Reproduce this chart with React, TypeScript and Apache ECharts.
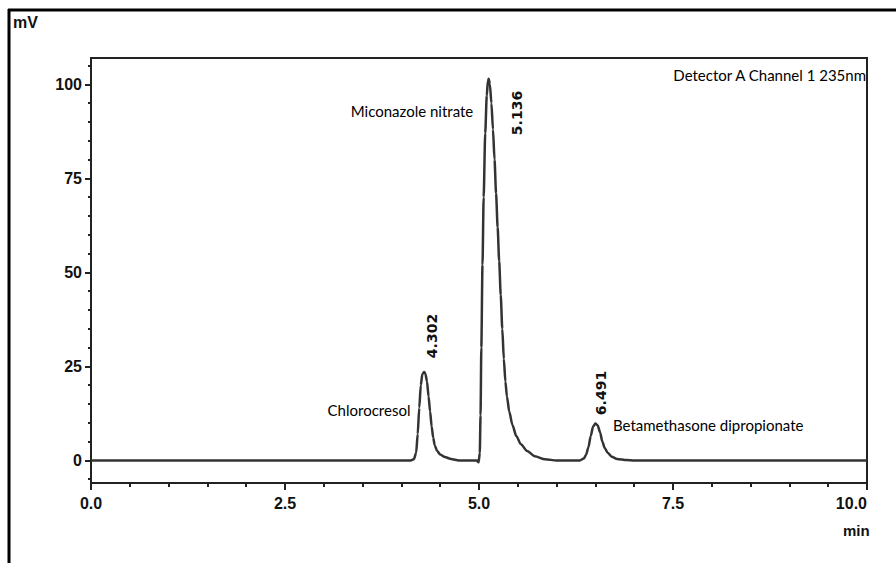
import React, { useEffect, useRef } from "react";
import * as echarts from "echarts";

// Chromatogram trace (retention time in min, signal in mV)
const timeMin: number[] = [
  0, 4.12, 4.16, 4.19, 4.21, 4.23, 4.25, 4.27, 4.295, 4.31, 4.33, 4.35, 4.37, 4.39, 4.41, 4.43, 4.46, 4.5, 4.56, 4.64, 4.74,
  4.97, 4.995, 5.01, 5.02, 5.03, 5.045, 5.06, 5.08, 5.1, 5.115, 5.125, 5.14, 5.16, 5.18, 5.2, 5.22, 5.24, 5.26, 5.28, 5.3,
  5.32, 5.34, 5.36, 5.39, 5.43, 5.48, 5.54, 5.62, 5.72, 5.85, 6.0,
  6.3, 6.35, 6.38, 6.41, 6.44, 6.47, 6.5, 6.53, 6.56, 6.59, 6.62, 6.66, 6.71, 6.78, 6.9, 7.0, 10,
];
const signalMv: number[] = [
  0, 0, 0.3, 2, 7, 14, 20, 23, 23.5, 23, 21, 17, 13, 9, 6, 4, 2.5, 1.6, 0.9, 0.4, 0,
  0, -0.5, 2, 12, 30, 52, 70, 87, 97, 101, 101.5, 100, 95, 88, 80, 71, 62, 53, 44, 35,
  27, 21, 17, 13, 9.5, 6.5, 4.3, 2.5, 1.1, 0.3, 0,
  0, 0.5, 1.5, 3.5, 6.5, 9, 9.8, 9.3, 7.5, 5, 3.3, 2, 1, 0.4, 0.1, 0, 0,
];

const xMajorTicks: number[] = [0, 2.5, 5, 7.5, 10];
const xMinorTicks: number[] = [0.5, 1, 1.5, 2, 3, 3.5, 4, 4.5, 5.5, 6, 6.5, 7, 8, 8.5, 9, 9.5];
const yMajorTicks: number[] = [0, 25, 50, 75, 100];
const yMinorTicks: number[] = [-5, 5, 10, 15, 20, 30, 35, 40, 45, 55, 60, 65, 70, 80, 85, 90, 95, 105];

const peakTimes: string[] = ["4.302", "5.136", "6.491"];
const peakNames: string[] = ["Chlorocresol", "Miconazole nitrate", "Betamethasone dipropionate"];

const AXIS_COLOR = "#222";
const TICK_FONT = {
  fontFamily: "Liberation Sans",
  fontWeight: "bold" as const,
  fontSize: 16,
  color: "#111",
};

export default function App() {
  const ref = useRef<HTMLDivElement>(null);

  useEffect(() => {
    if (!ref.current) return;
    document.body.style.margin = "0";
    const chart = echarts.init(ref.current, null, { renderer: "svg" });

    const data = timeMin.map((t, i) => [t, signalMv[i]]);
    const xRange = { min: 0, max: 10 };
    const yRange = { min: -6, max: 107 };

    const annFont = { fontFamily: "Lato", fontSize: 15, fill: "#000" };
    const numFont = { fontFamily: "DejaVu Sans", fontWeight: "bold", fontSize: 14, fill: "#111" };

    chart.setOption({
      animation: false,
      backgroundColor: "#fff",
      grid: {
        left: 91,
        top: 58,
        right: 29,
        bottom: 80,
        show: true,
        borderColor: AXIS_COLOR,
        borderWidth: 2,
        containLabel: false,
      },
      xAxis: [
        {
          type: "value",
          ...xRange,
          axisLine: { show: true, onZero: false, lineStyle: { color: AXIS_COLOR, width: 2 } },
          axisTick: { show: true, customValues: xMajorTicks, length: 7, lineStyle: { color: AXIS_COLOR, width: 2 } },
          axisLabel: {
            ...TICK_FONT,
            customValues: xMajorTicks,
            margin: 12,
            alignMaxLabel: "right",
            formatter: (v: number) => v.toFixed(1),
          },
          splitLine: { show: false },
        },
        {
          type: "value",
          ...xRange,
          position: "bottom",
          axisLine: { show: false, onZero: false },
          axisTick: { show: true, customValues: xMinorTicks, length: 4, lineStyle: { color: AXIS_COLOR, width: 2 } },
          axisLabel: { show: false },
          splitLine: { show: false },
        },
      ],
      yAxis: [
        {
          type: "value",
          ...yRange,
          axisLine: { show: true, onZero: false, lineStyle: { color: AXIS_COLOR, width: 2 } },
          axisTick: { show: true, customValues: yMajorTicks, length: 6, lineStyle: { color: AXIS_COLOR, width: 2 } },
          axisLabel: { ...TICK_FONT, customValues: yMajorTicks, margin: 9 },
          splitLine: { show: false },
        },
        {
          type: "value",
          ...yRange,
          position: "left",
          axisLine: { show: false, onZero: false },
          axisTick: { show: true, customValues: yMinorTicks, length: 3, lineStyle: { color: AXIS_COLOR, width: 2 } },
          axisLabel: { show: false },
          splitLine: { show: false },
        },
      ],
      series: [
        {
          type: "line",
          data,
          showSymbol: false,
          smooth: 0.25,
          smoothMonotone: "x",
          lineStyle: { color: "#333", width: 2.5 },
          xAxisIndex: 0,
          yAxisIndex: 0,
        },
      ],
      graphic: [
        // outer figure frame
        { type: "line", shape: { x1: 8, y1: 10, x2: 896, y2: 10 }, style: { stroke: "#000", lineWidth: 3 } },
        { type: "line", shape: { x1: 9, y1: 9, x2: 9, y2: 563 }, style: { stroke: "#000", lineWidth: 3 } },
        // axis units
        { type: "text", x: 13, y: 14, style: { text: "mV", fontFamily: "Liberation Sans", fontWeight: "bold", fontSize: 16, fill: "#111" } },
        { type: "text", x: 843, y: 523, style: { text: "min", fontFamily: "Liberation Sans", fontWeight: "bold", fontSize: 15, fill: "#111" } },
        // detector info
        { type: "text", x: 866, y: 75, style: { ...annFont, text: "Detector A Channel 1 235nm", align: "right", verticalAlign: "middle" } },
        // peak names
        { type: "text", x: 369, y: 410, style: { ...annFont, text: peakNames[0], align: "center", verticalAlign: "middle" } },
        { type: "text", x: 412, y: 111, style: { ...annFont, text: peakNames[1], align: "center", verticalAlign: "middle" } },
        { type: "text", x: 613, y: 425, style: { ...annFont, text: peakNames[2], align: "left", verticalAlign: "middle" } },
        // retention time labels (rotated)
        { type: "text", x: 432, y: 336, rotation: Math.PI / 2, style: { ...numFont, text: peakTimes[0], align: "center", verticalAlign: "middle" } },
        { type: "text", x: 517, y: 113, rotation: Math.PI / 2, style: { ...numFont, text: peakTimes[1], align: "center", verticalAlign: "middle" } },
        { type: "text", x: 601, y: 393, rotation: Math.PI / 2, style: { ...numFont, text: peakTimes[2], align: "center", verticalAlign: "middle" } },
      ],
    });

    return () => chart.dispose();
  }, []);

  return (
    <div
      ref={ref}
      style={{ position: "fixed", left: 0, top: 0, width: 896, height: 563, background: "#fff" }}
    />
  );
}
